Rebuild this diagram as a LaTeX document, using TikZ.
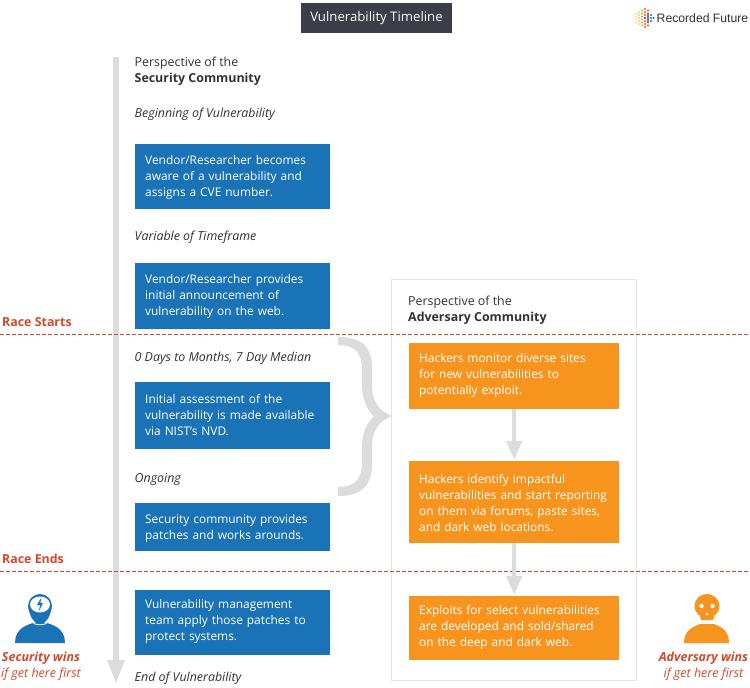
\documentclass[tikz,border=0pt]{standalone}
\usepackage{fontspec}
\setmainfont{Open Sans}
\newfontfamily\logofont{Liberation Sans}
\usetikzlibrary{arrows.meta,calc}
\definecolor{vulnBlue}{RGB}{26,115,182}
\definecolor{vulnOrange}{RGB}{247,148,30}
\definecolor{raceRed}{RGB}{209,73,42}
\definecolor{titleDark}{RGB}{60,61,70}
\definecolor{spineGray}{RGB}{220,220,220}
\definecolor{frameGray}{RGB}{228,228,228}
\definecolor{inkGray}{RGB}{50,50,50}
\tikzset{
  basetext/.style={font=\fontsize{12.4}{16}\selectfont, inner sep=0pt, align=left, text=inkGray},
  bluebox/.style={basetext, font=\fontsize{11.9}{16}\selectfont, fill=vulnBlue, text=white, anchor=north west, minimum width=195pt, text width=175pt, inner xsep=10pt, inner ysep=0pt},
  orangebox/.style={bluebox, fill=vulnOrange, minimum width=210pt, text width=190pt},
  textnudge/.style={execute at end node={\par\vspace*{#1}}},
  headtext/.style={basetext, anchor=west},
  steptext/.style={basetext, anchor=west, font=\fontsize{12.4}{16}\selectfont\itshape},
  racetext/.style={anchor=west, inner sep=0pt, text=raceRed, font=\fontsize{12.4}{16}\selectfont\bfseries},
  racedash/.style={raceRed, line width=1pt, dash pattern=on 3.6pt off 2.4pt},
  winstext/.style={inner sep=0pt, align=center, text=raceRed, font=\fontsize{12.5}{16}\selectfont},
  flowarrow/.style={spineGray, line width=4.5pt, -{Triangle[length=19pt, width=15pt]}, shorten >=1pt},
}
\begin{document}
\begin{tikzpicture}[x=1pt, y=-1pt]
  \useasboundingbox (0,0) rectangle (750,688);
  % timeline spine
  \coordinate (spineTop) at (116,57);
  \coordinate (spineEnd) at (116,684);
  \draw[flowarrow, line width=6pt, -{Triangle[length=24pt, width=16pt]}, shorten >=0pt] (spineTop) -- (spineEnd);
  % title and logo
  \node[fill=titleDark, text=white, minimum width=151pt, minimum height=30pt, inner sep=0pt, font=\fontsize{13.2}{16}\selectfont] (title) at (376.5,18) {Vulnerability Timeline};
  \foreach \x/\n/\c in {633/3/yellow!25!white, 636/4/yellow!45!orange!45!white, 639/5/orange!50!white, 642/6/orange!80!white, 645/7/orange!70!red, 648/6/red!75!orange!85!white, 651/3/vulnBlue, 653.5/1/vulnBlue}{
    \foreach \j in {1,...,\n}{
      \fill[\c] ({\x},{18+(\j-(\n+1)/2)*3}) circle (1.2pt);
    }
  }
  \foreach \x/\y in {648/15, 648/18, 648/21, 645/18}{
    \fill[vulnBlue] (\x,\y) circle (1.2pt);
  }
  \node[anchor=west, inner sep=0pt, text=inkGray, font=\fontsize{12.2}{16}\selectfont\logofont] (logo) at (656.5,18) {Recorded Future};
  % adversary frame
  \node[draw=frameGray, line width=1pt, minimum width=245pt, minimum height=401pt, inner sep=0pt, anchor=north west] (frame) at (391,279) {};
  % race lines
  \coordinate (startL) at (0,334); \coordinate (startR) at (750,334);
  \coordinate (endL) at (0,571); \coordinate (endR) at (750,571);
  \draw[racedash] (startL) -- (startR);
  \draw[racedash] (endL) -- (endR);
  \node[racetext] (raceStart) at (2,322) {Race Starts};
  \node[racetext] (raceEnd) at (2,559) {Race Ends};
  % security community column
  \node[headtext] (secHead) at (134.5,71) {Perspective of the\\\textbf{Security Community}};
  \node[steptext] (secBegin) at (134.5,114) {Beginning of Vulnerability};
  \node[bluebox, textnudge=-2pt, minimum height=65pt] (secCve) at (135,144) {Vendor/Researcher becomes\\aware of a vulnerability and\\assigns a CVE number.};
  \node[steptext] (secVar) at (134.5,237) {Variable of Timeframe};
  \node[bluebox, minimum height=66pt] (secWeb) at (135,263) {Vendor/Researcher provides\\initial announcement of\\vulnerability on the web.};
  \node[steptext] (secDays) at (134.5,358) {0 Days to Months, 7 Day Median};
  \node[bluebox, textnudge=2pt, minimum height=67pt] (secNvd) at (135,382) {Initial assessment of the\\vulnerability is made available\\via NIST's NVD.};
  \node[steptext] (secOngoing) at (134.5,479) {Ongoing};
  \node[bluebox, textnudge=-2pt, minimum height=48pt] (secPatch) at (135,503) {Security community provides\\patches and works arounds.};
  \node[bluebox, textnudge=2pt, minimum height=65pt] (secApply) at (135,590) {Vulnerability management\\team apply those patches to\\protect systems.};
  \node[steptext] (secEnd) at (134.5,678) {End of Vulnerability};
  % adversary community column
  \node[headtext] (advHead) at (408,310) {Perspective of the\\\textbf{Adversary Community}};
  \node[orangebox, textnudge=2pt, minimum height=66pt] (advMonitor) at (409,343) {Hackers monitor diverse sites\\for new vulnerabilities to\\potentially exploit.};
  \node[orangebox, textnudge=-1pt, minimum height=82pt] (advReport) at (409,461) {Hackers identify impactful\\\mbox{vulnerabilities and start reporting}\\on them via forums, paste sites,\\and dark web locations.};
  \node[orangebox, textnudge=2pt, minimum height=64pt] (advExploit) at (409,596) {Exploits for select vulnerabilities\\are developed and sold/shared\\on the deep and dark web.};
  \draw[flowarrow] (advMonitor) -- (advReport);
  \draw[flowarrow] (advReport) -- (advExploit);
  % brace from the race window to the adversary side
  \fill[spineGray] (338,337) .. controls (360,337) and (372,345) .. (372,368)
    -- (372,385) .. controls (372,402) and (380,412) .. (392,416)
    .. controls (380,420) and (372,430) .. (372,447)
    -- (372,464) .. controls (372,487) and (360,496) .. (338,496)
    -- (338,487) .. controls (354,487) and (362,480) .. (362,462)
    -- (362,447) .. controls (362,432) and (368,421) .. (374,416.5)
    .. controls (368,411) and (362,400) .. (362,385)
    -- (362,370) .. controls (362,352) and (354,345) .. (338,345) -- cycle;
  % security icon
  \fill[vulnBlue] (15,643) .. controls (15,629) and (26,625) .. (33,623) -- (47,623)
    .. controls (54,625) and (65,629) .. (65,643) -- cycle;
  \fill[vulnBlue] (40,606) circle (12pt);
  \fill[vulnBlue] (28.5,608) .. controls (30,616) and (32,622) .. (40,625) .. controls (48,622) and (50,616) .. (51.5,608) -- cycle;
  \draw[white, line width=.8pt] (31,621.5) .. controls (35,626) and (45,626) .. (49,621.5);
  \fill[white] (40,604.5) ellipse (10pt and 8pt);
  \fill[vulnBlue] (41,598) -- (37,605) -- (40,605) -- (39,611) -- (43,603) -- (40.5,603) -- cycle;
  \node[winstext] (secWins) at (41,666) {\textbf{\itshape Security wins}\\\itshape if get here first};
  % adversary icon
  \fill[vulnOrange] (684,643) .. controls (684,631) and (692,627) .. (700,624) -- (714,624)
    .. controls (722,627) and (729,631) .. (729,643) -- cycle;
  \fill[vulnOrange] (707,606) ellipse (12.5pt and 12pt);
  \fill[vulnOrange] (699,612) -- (715,612) -- (713,620) -- (701,620) -- cycle;
  \draw[white, line width=.8pt] (699,620) .. controls (702,623.5) and (712,623.5) .. (715,620);
  \fill[white] (701.5,606) circle (2.2pt);
  \fill[white] (712.5,606) circle (2.2pt);
  \fill[white] (707,614) circle (1.4pt);
  \node[winstext] (advWins) at (703.5,666) {\textbf{\itshape Adversary wins}\\\itshape if get here first};
\end{tikzpicture}
\end{document}
